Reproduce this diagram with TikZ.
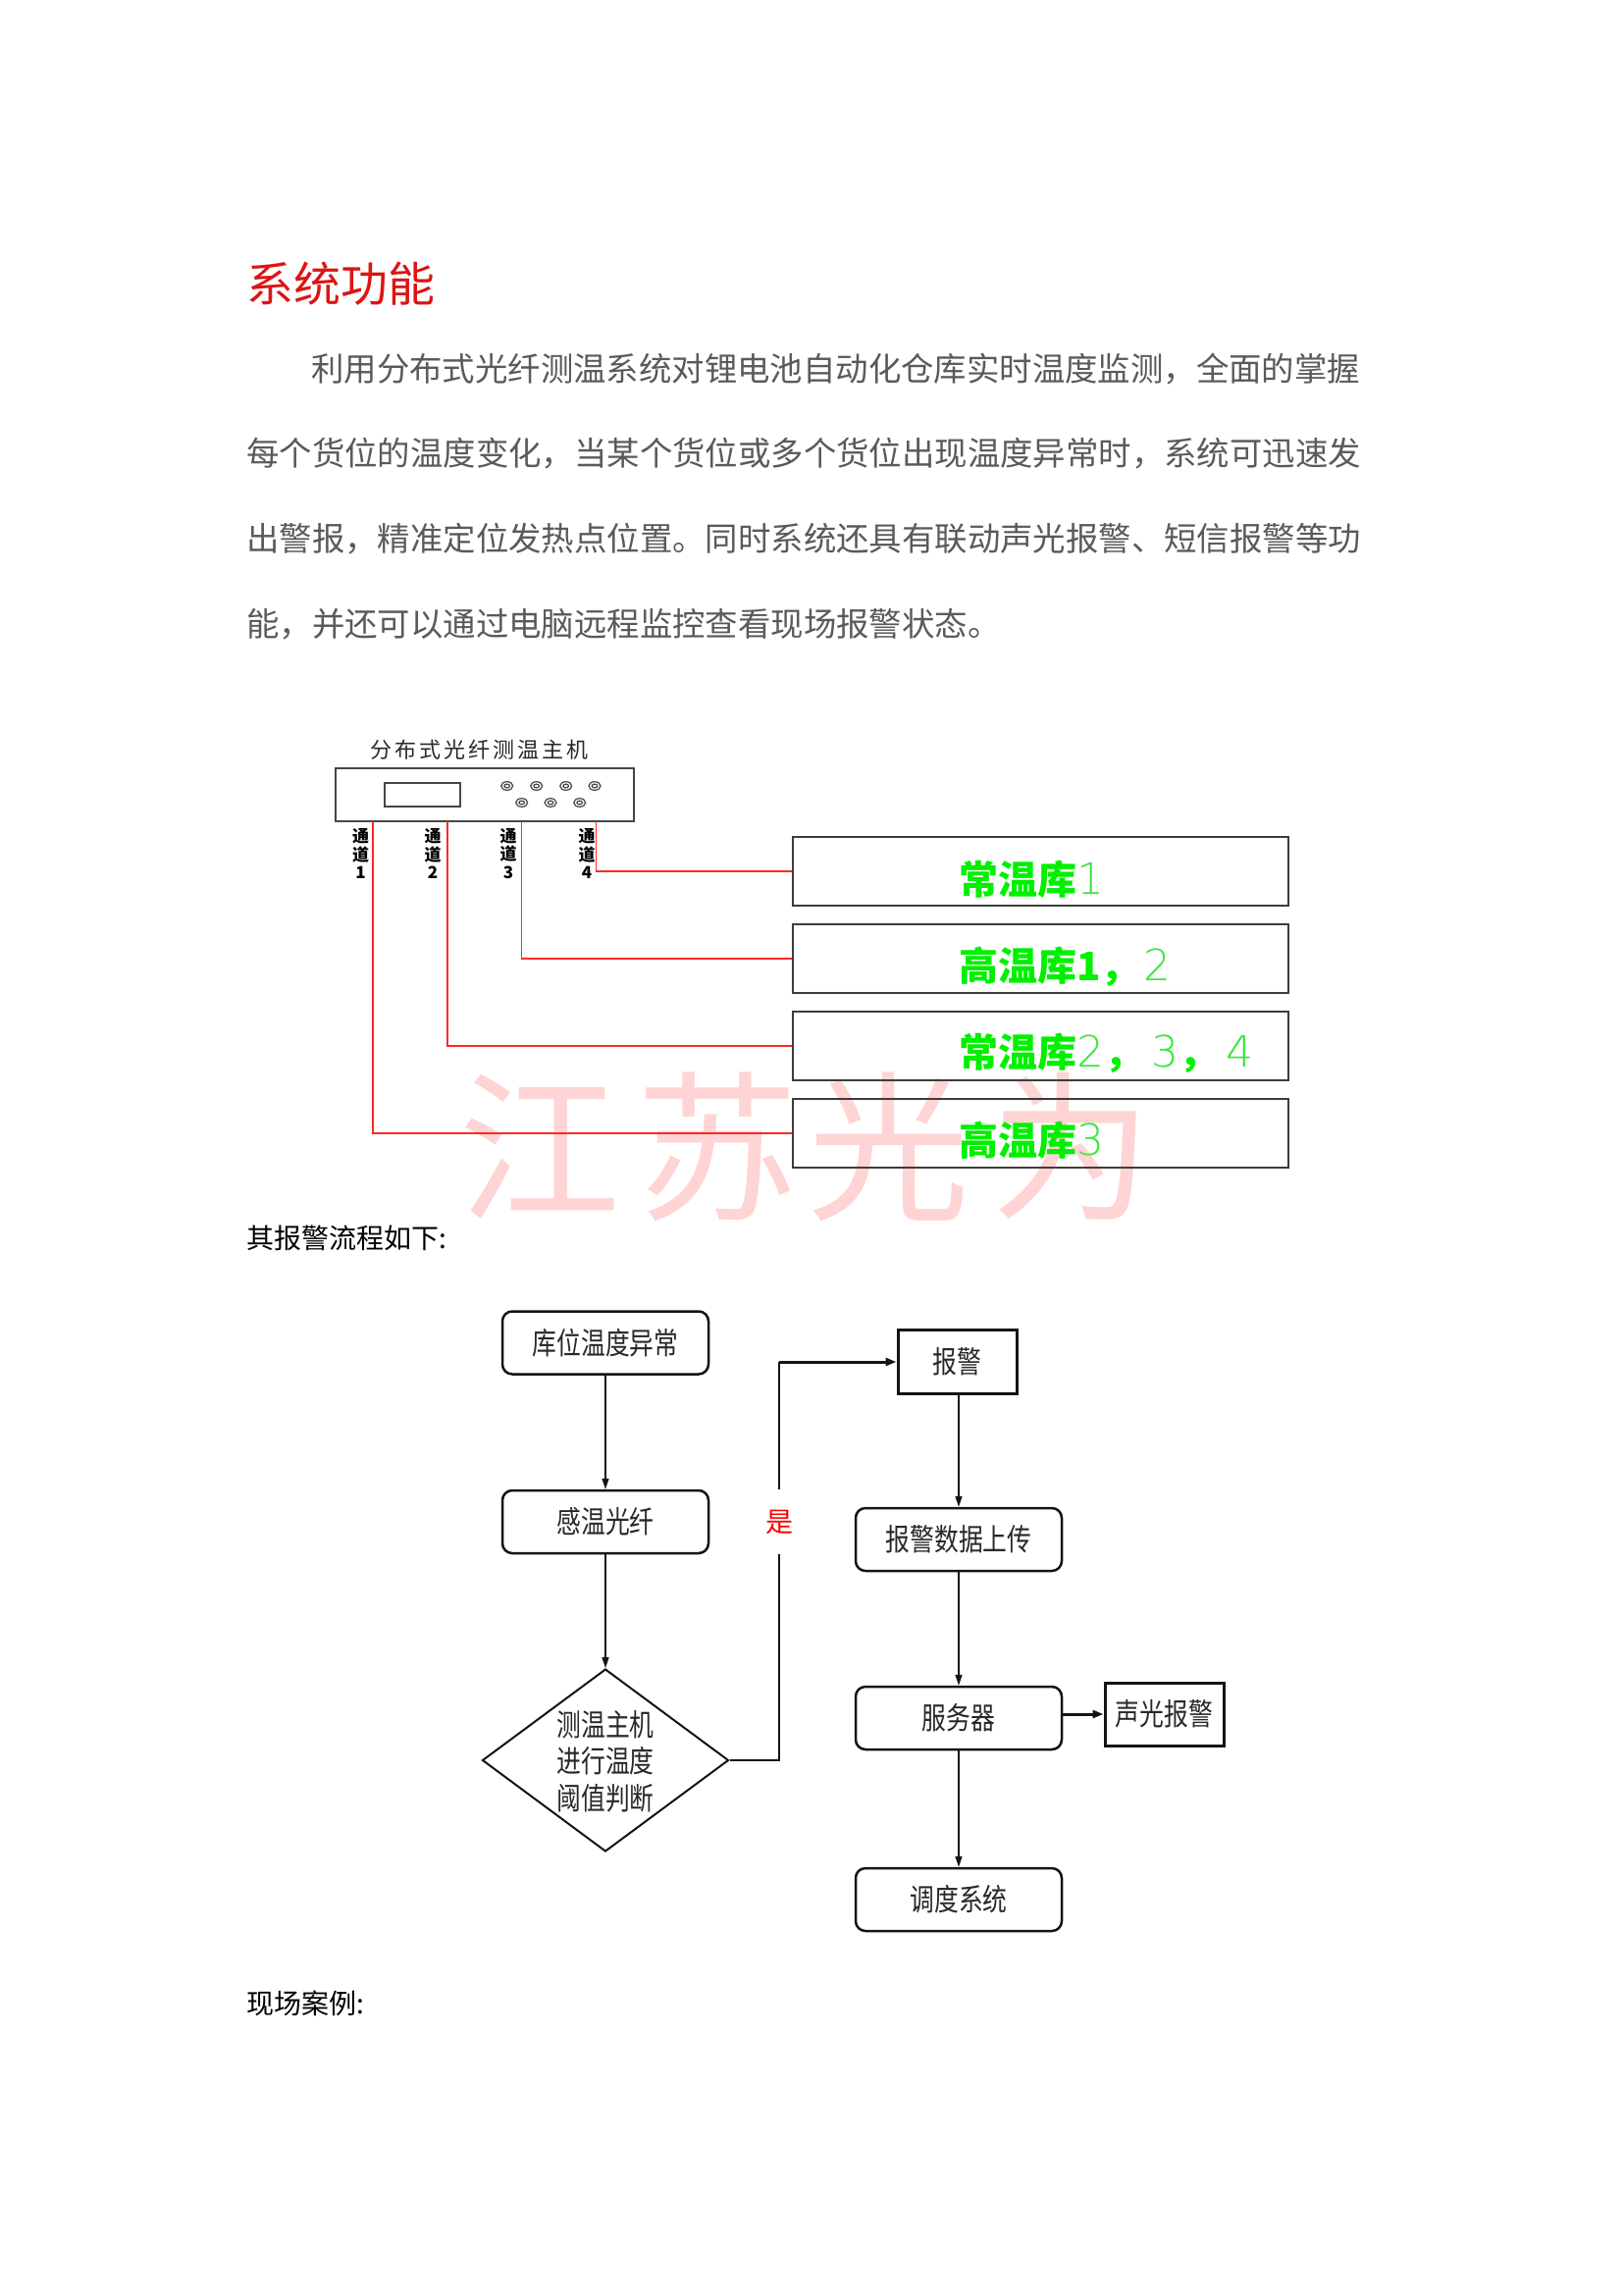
\documentclass[tikz,border=0pt]{standalone}
\usepackage{fontspec}
\usepackage{graphicx}
\usetikzlibrary{shapes.geometric,arrows.meta}
\newfontfamily\cjk{Noto Sans CJK SC}
\IfFontExistsTF{DejaVu Sans ExtraLight}{\newfontfamily\thinf{DejaVu Sans ExtraLight}}{\newfontfamily\thinf{DejaVu Sans}}
\newcommand\fsz[1]{\fontsize{#1}{#1}\selectfont}
\newcommand\nar[1]{\scalebox{0.8}[1]{#1}}
\newcommand\thindig[1]{{\thinf\mdseries\fsz{44}\color{thingreen}#1}}
\definecolor{paragray}{RGB}{90,90,90}
\definecolor{titlered}{RGB}{220,20,20}
\definecolor{lred}{RGB}{255,40,40}
\definecolor{boxgray}{RGB}{60,60,60}
\definecolor{hostgray}{RGB}{70,70,70}
\definecolor{lgreen}{RGB}{0,240,0}
\definecolor{thingreen}{RGB}{60,230,60}
\definecolor{wmpink}{RGB}{255,212,212}
\definecolor{flowblack}{RGB}{20,20,20}
\definecolor{flowtext}{RGB}{40,40,40}
\begin{document}
\begin{tikzpicture}[x=1pt,y=-1pt,
  para/.style={anchor=west,inner sep=0,text=paragray,font=\cjk\fsz{33.4}},
  redline/.style={draw=lred,line width=1.5},
  gbox/.style={draw=boxgray,line width=2,minimum width=505,minimum height=70,inner sep=0},
  gtext/.style={anchor=west,inner sep=0,text=lgreen,font=\cjk\bfseries\fsz{40}},
  chlab/.style={inner sep=0,align=center,font=\cjk\bfseries\fontsize{17}{18.5}\selectfont},
  knob/.style={draw=hostgray,line width=1.2},
  rbox/.style={draw=flowblack,line width=2.5,rounded corners=10,minimum width=210,minimum height=64,inner sep=0,font=\cjk\fsz{31},text=flowtext},
  sbox/.style={draw=flowblack,line width=3,minimum width=121,minimum height=65,inner sep=0,font=\cjk\fsz{31},text=flowtext},
  flowline/.style={draw=flowblack,line width=1.5},
  arr/.style={draw=flowblack,line width=1.5,-{Triangle[length=11pt,width=7pt]}},
  thickarr/.style={draw=flowblack,line width=3,-{Triangle[length=11pt,width=8pt]}},
  plain/.style={anchor=west,inner sep=0,font=\cjk\fsz{28},text=black},
]
\useasboundingbox (0,0) rectangle (1654,2339);
\fill[white] (0,0) rectangle (1654,2339);

% watermark (underneath)
\node[inner sep=0,text=wmpink,font=\cjk\fsz{165}] (wm) at (821,1169) {江\kern16pt苏\kern10pt光\kern21pt为};

% title and paragraph
\node[anchor=west,inner sep=0,text=titlered,font=\cjk\fsz{48}] (title) at (251,289) {系统功能};
\node[para] (p1) at (317,376) {利用分布式光纤测温系统对锂电池自动化仓库实时温度监测，全面的掌握};
\node[para] (p2) at (251,462) {每个货位的温度变化，当某个货位或多个货位出现温度异常时，系统可迅速发};
\node[para] (p3) at (251,549) {出警报，精准定位发热点位置。同时系统还具有联动声光报警、短信报警等功};
\node[para] (p4) at (251,636) {能，并还可以通过电脑远程监控查看现场报警状态。};

% host
\node[inner sep=0,text=flowtext,font=\cjk\fsz{22}] (hostlabel) at (488.5,764) {分\kern3pt布\kern3pt式\kern3pt光\kern3pt纤\kern3pt测\kern3pt温\kern3pt主\kern3pt机};
\node[draw=hostgray,line width=2,minimum width=304,minimum height=54,inner sep=0] (host) at (494,810) {};
\node[draw=hostgray,line width=2,minimum width=77,minimum height=24,inner sep=0] (screen) at (430,810) {};
\foreach \kx/\ky in {516.7/801,546.7/801,576.7/801,606/801,531.7/818,561/818,590.7/818}{
  \draw[knob] (\kx,\ky) ellipse [x radius=6,y radius=4.3];
  \draw[knob] (\kx,\ky) ellipse [x radius=2.8,y radius=1.9];
}
\coordinate (ch1) at (380,837);
\coordinate (ch2) at (456,837);
\coordinate (ch3) at (531.7,837);
\coordinate (ch4) at (607.7,837);
\node[chlab] (l1) at (367.5,870) {通\\道\\1};
\node[chlab] (l2) at (441,870) {通\\道\\2};
\node[chlab] (l3) at (518,870) {通\\道\\3};
\node[chlab] (l4) at (598,870) {通\\道\\4};

% storage boxes
\node[gbox] (b1) at (1060.5,888) {};
\node[gbox] (b2) at (1060.5,977) {};
\node[gbox] (b3) at (1060.5,1066) {};
\node[gbox] (b4) at (1060.5,1155) {};
\draw[redline] (ch4) |- (b1.west);
\draw[redline] (ch3) |- (b2.west);
\draw[redline] (ch2) |- (b3.west);
\draw[redline] (ch1) |- (b4.west);
\node[gtext] (t1) at (977,896) {常温库\thindig{1}};
\node[gtext] (t2) at (977,985) {高温库1，\kern4pt\thindig{2}};
\node[gtext] (t3) at (977,1073) {常温库\thindig{2}，\kern8pt\thindig{3}，\kern8pt\thindig{4}};
\node[gtext] (t4) at (977,1162) {高温库\thindig{3}};

% texts
\node[plain] (flowtitle) at (251,1262) {其报警流程如下:};
\node[plain] (casetitle) at (251,2042) {现场案例:};

% flowchart
\node[rbox] (n1) at (617,1368.5) {\nar{库位温度异常}};
\node[rbox] (n2) at (617,1551) {\nar{感温光纤}};
\node[diamond,draw=flowblack,line width=2,minimum width=251,minimum height=186,inner sep=0] (d) at (617,1794) {};
\node[inner sep=0,align=center,text=flowtext,font=\cjk\fontsize{31}{37.5}\selectfont] (dt) at (617,1795) {\nar{测温主机}\\\nar{进行温度}\\\nar{阈值判断}};
\node[sbox] (n3) at (975.5,1388) {\nar{报警}};
\node[rbox] (n4) at (977,1569) {\nar{报警数据上传}};
\node[rbox] (n5) at (977,1751) {\nar{服务器}};
\node[sbox,minimum height=64] (n6) at (1186.5,1747) {\nar{声光报警}};
\node[rbox] (n7) at (977,1936) {\nar{调度系统}};
\node[inner sep=0,minimum height=65,text=red,font=\cjk\fsz{28}] (yes) at (794,1551) {是};

\draw[arr] (n1.south) -- (n2.north);
\draw[arr] (n2.south) -- (d.north);
\draw[flowline] (d.east) -| (yes.south);
\coordinate (turn) at (yes.north |- n3.west);
\draw[flowline] (yes.north) -- (turn);
\draw[thickarr] (turn) -- (n3.west);
\draw[arr] (n3.south -| n4.north) -- (n4.north);
\draw[arr] (n4.south) -- (n5.north);
\draw[arr] (n5.south) -- (n7.north);
\draw[thickarr] (n5.east |- n6.west) -- (n6.west);
\end{tikzpicture}
\end{document}
